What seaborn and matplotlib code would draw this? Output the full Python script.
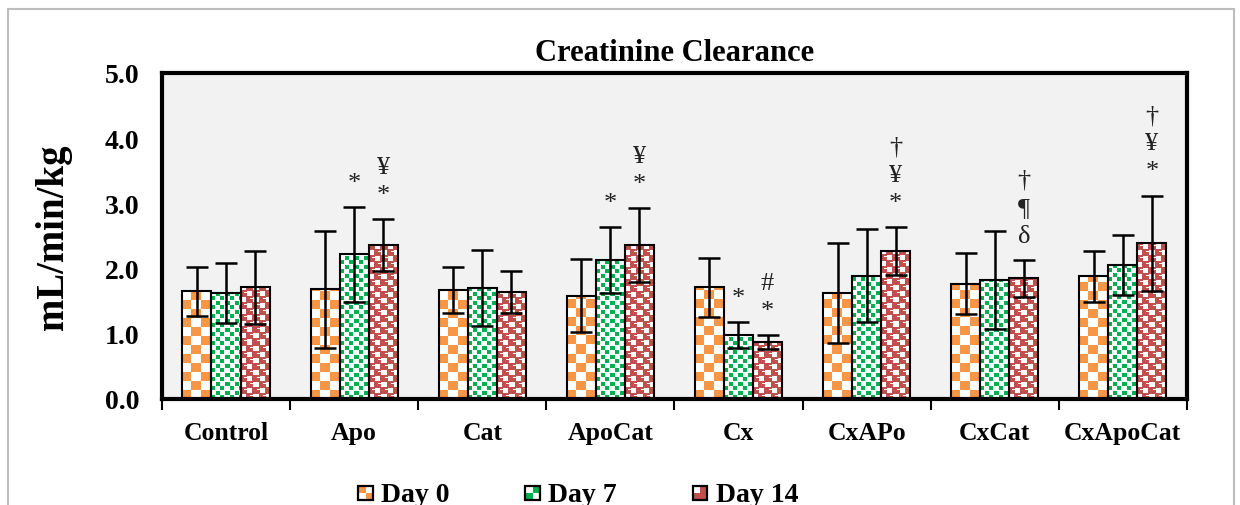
import numpy as np
import pandas as pd
import seaborn as sns
import matplotlib.pyplot as plt
from matplotlib.colors import to_rgb
from matplotlib.patches import Rectangle
from matplotlib.legend_handler import HandlerBase

# data
groups = ["Control", "Apo", "Cat", "ApoCat", "Cx", "CxAPo", "CxCat", "CxApoCat"]
days = ["Day 0", "Day 7", "Day 14"]
day0 = [1.65, 1.68, 1.67, 1.58, 1.71, 1.63, 1.77, 1.88]
day7 = [1.62, 2.22, 1.70, 2.13, 0.98, 1.89, 1.82, 2.06]
day14 = [1.71, 2.36, 1.64, 2.36, 0.87, 2.27, 1.85, 2.39]
err0 = [0.37, 0.90, 0.35, 0.56, 0.46, 0.77, 0.47, 0.39]
err7 = [0.46, 0.73, 0.58, 0.51, 0.20, 0.71, 0.75, 0.46]
err14 = [0.56, 0.40, 0.32, 0.57, 0.11, 0.37, 0.28, 0.73]
# significance marks (bottom to top) per group, per day
marks7 = {"Apo": ["*"], "ApoCat": ["*"], "Cx": ["*"]}
marks14 = {"Apo": ["*", "¥"], "ApoCat": ["*", "¥"], "Cx": ["*", "#"],
           "CxAPo": ["*", "¥", "†"], "CxCat": ["δ", "¶", "†"],
           "CxApoCat": ["*", "¥", "†"]}

df = pd.DataFrame({
    "group": groups * 3,
    "day": np.repeat(days, len(groups)),
    "value": day0 + day7 + day14,
})

ORANGE = "#F79646"
GREEN = "#00B050"
RED = "#C0504D"

plt.rcParams["font.family"] = ["Liberation Serif", "DejaVu Serif"]

fig = plt.figure(figsize=(12.4, 5.06), dpi=100)
fig.patches.append(Rectangle((0.0065, -0.02), 0.9885, 1.0, transform=fig.transFigure,
                             fill=False, edgecolor="#bdbdbd", linewidth=1.5))
ax = fig.add_axes([0.1306, 0.2095, 0.8266, 0.6443])
ax.set_facecolor("#f2f2f2")

sns.barplot(data=df, x="group", y="value", hue="day", order=groups, hue_order=days,
            width=0.68, gap=0, errorbar=None, ax=ax, legend=False,
            palette=["white"] * 3, edgecolor="black", linewidth=1.5)

ax.set_xlim(-0.5, len(groups) - 0.5)
ax.set_ylim(0, 5)


def pattern(kind, nx, ny):
    i = np.arange(nx)[None, :]
    j = np.arange(ny)[:, None]
    img = np.ones((ny, nx, 3))
    if kind == 0:
        c = 9
        mask = ((i // c) + (j // c)) % 2 == 0
        img[mask] = to_rgb(ORANGE)
    elif kind == 1:
        p = 9
        a = (i % p < 4) & (j % p < 4)
        b = ((i + 4) % p < 4) & ((j + 5) % p < 4)
        img[a | b] = to_rgb(GREEN)
    else:
        img[:] = to_rgb(RED)
        p = 12
        a = (i % p < 5) & (j % p < 5)
        b = ((i + 6) % p < 5) & ((j + 6) % p < 5)
        d = ((i + 9) % p < 3) & ((j + 3) % p == 0)
        e = ((i + 3) % p < 3) & ((j + 9) % p == 0)
        img[a | b | d | e] = 1.0
    return img


# fill each bar with its pattern and draw error bars
for k, (cont, errs) in enumerate(zip(ax.containers, [err0, err7, err14])):
    xs = []
    for bar in cont:
        x0, y0 = bar.get_x(), bar.get_y()
        w, h = bar.get_width(), bar.get_height()
        (px0, py0), (px1, py1) = ax.transData.transform([(x0, y0), (x0 + w, y0 + h)])
        nx, ny = max(int(round(px1 - px0)), 1), max(int(round(py1 - py0)), 1)
        ax.imshow(pattern(k, nx, ny), extent=(x0, x0 + w, y0, y0 + h), origin="lower",
                  interpolation="nearest", aspect="auto", zorder=0.5)
        bar.set_facecolor("none")
        bar.set_zorder(1)
        xs.append(x0 + w / 2)
    vals = [b.get_height() for b in cont]
    ax.errorbar(xs, vals, yerr=errs, fmt="none", ecolor="black", elinewidth=1.8,
                capsize=8, capthick=1.8, zorder=2)
    marks = [{}, marks7, marks14][k]
    for g, x, v, e in zip(groups, xs, vals, errs):
        for n, s in enumerate(marks.get(g, [])):
            ax.text(x, v + e + 0.37 + 0.43 * n, s, ha="center", va="center",
                    fontsize=19, color="#222222")

ax.set_xlim(-0.5, len(groups) - 0.5)
ax.set_ylim(0, 5)
ax.set_yticks(np.arange(0, 5.1, 1.0))
ax.set_yticklabels([f"{v:.1f}" for v in np.arange(0, 5.1, 1.0)], fontsize=20, fontweight="bold")
ax.tick_params(axis="y", length=0, pad=16)
ax.set_xticks(range(len(groups)))
ax.set_xticklabels(groups, fontsize=18.5, fontweight="bold")
ax.tick_params(axis="x", which="major", length=0, pad=16)
ax.set_xticks(np.arange(-0.5, len(groups), 1.0), minor=True)
ax.tick_params(axis="x", which="minor", length=8, width=1.5, direction="out")
ax.set_xlabel("")
ax.set_ylabel("mL/min/kg", fontsize=28, fontweight="bold", labelpad=24)
ax.set_title("Creatinine Clearance", fontsize=22, fontweight="bold", pad=9)
for sp in ax.spines.values():
    sp.set_linewidth(3)
    sp.set_color("black")


class PatternHandler(HandlerBase):
    def __init__(self, kind):
        super().__init__()
        self.kind = kind

    def create_artists(self, legend, orig_handle, xdescent, ydescent, width, height,
                       fontsize, trans):
        s = height * 0.75
        x0 = width - s
        y0 = -ydescent + (height - s) / 2 - height * 0.1
        arts = []
        col = [ORANGE, GREEN, RED][self.kind]
        cells = {0: [(1, 0), (0, 1)], 1: [(0, 0), (1, 1)], 2: [(0, 0), (1, 0), (1, 1)]}[self.kind]
        for (cx, cy) in cells:
            arts.append(Rectangle((x0 + cx * s / 2, y0 + cy * s / 2), s / 2, s / 2,
                                  facecolor=col, edgecolor="none", transform=trans))
        arts.append(Rectangle((x0, y0), s, s, facecolor="none", edgecolor="black",
                              linewidth=1.6, transform=trans))
        return arts


handles = [Rectangle((0, 0), 1, 1) for _ in days]
fig.legend(handles, days, loc="center", bbox_to_anchor=(0.466, 0.022), ncol=3,
           frameon=False, prop={"size": 20, "weight": "bold"},
           handler_map={h: PatternHandler(k) for k, h in enumerate(handles)},
           handlelength=0.55, handletextpad=0.3, columnspacing=2.7)

fig.savefig("out.png", dpi=100)
